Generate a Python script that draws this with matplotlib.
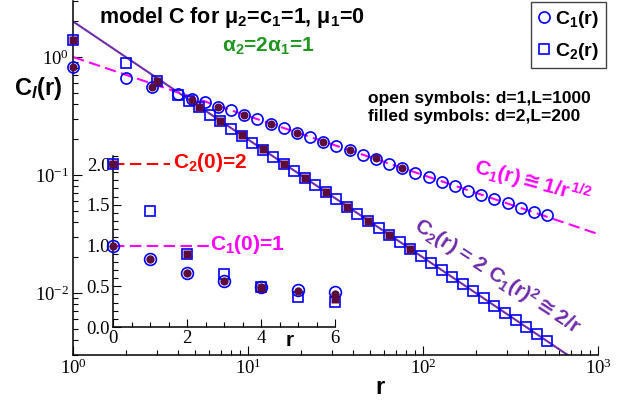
import matplotlib.pyplot as plt
from matplotlib.lines import Line2D
from matplotlib.ticker import MultipleLocator, FormatStrFormatter

plt.rcParams['font.family'] = ['Liberation Sans', 'DejaVu Sans']
plt.rcParams['mathtext.fontset'] = 'custom'
plt.rcParams['mathtext.rm'] = 'Liberation Sans:bold'
plt.rcParams['mathtext.it'] = 'Liberation Sans:italic:bold'
plt.rcParams['mathtext.bf'] = 'Liberation Sans:bold'
plt.rcParams['mathtext.sf'] = 'DejaVu Sans:bold'

# open symbols: d=1, L=1000
r_c1_open = [1, 2, 2.83, 4, 4.76, 5.66, 6.73, 8, 9.51, 11.3, 13.5, 16, 19.0, 22.6, 26.9, 32,
             38.1, 45.3, 53.8, 64, 76.1, 90.5, 108, 128, 152, 181, 215, 256, 304, 362, 431, 512]
c1_open = [0.83, 0.66, 0.555, 0.49, 0.44, 0.415, 0.38, 0.352, 0.323, 0.296, 0.270, 0.248, 0.228,
           0.209, 0.192, 0.176, 0.162, 0.149, 0.137, 0.125, 0.115, 0.104, 0.097, 0.087, 0.080,
           0.073, 0.068, 0.062, 0.058, 0.052, 0.049, 0.046]

r_c2_open = [1, 2, 3.03, 4, 4.59, 5.28, 6.06, 6.96, 8.0, 9.19, 10.56, 12.13, 13.93, 16.0, 18.38,
             21.11, 24.25, 27.86, 32.0, 36.76, 42.22, 48.5, 55.72, 64.0, 73.52, 84.45, 97.01,
             111.4, 128.0, 147.0, 168.9, 194.0, 222.9, 256.0, 294.1, 337.8, 388.0, 445.7, 512.0]
c2_open = [1.40, 0.89, 0.63, 0.48, 0.425, 0.375, 0.323, 0.284, 0.247, 0.216, 0.188, 0.164, 0.143,
           0.124, 0.108, 0.094, 0.082, 0.0715, 0.062, 0.054, 0.047, 0.041, 0.0357, 0.031, 0.027,
           0.0236, 0.0205, 0.0179, 0.0156, 0.0136, 0.0118, 0.0103, 0.0090, 0.0078, 0.0068,
           0.0059, 0.0051, 0.0045, 0.0039]

# filled symbols: d=2, L=200
r_c1_fill = [1, 2.83, 4.76, 6.73, 9.51, 13.5, 19.0, 26.9, 38.1, 53.8, 76.1]
c1_fill = [0.83, 0.553, 0.432, 0.375, 0.323, 0.270, 0.226, 0.191, 0.163, 0.139, 0.114]

r_c2_fill = [1, 3.03, 5.28, 6.96, 9.19, 12.13, 16.0, 21.11, 27.86, 36.76, 48.5, 64.0, 84.45]
c2_fill = [1.39, 0.63, 0.38, 0.287, 0.218, 0.166, 0.125, 0.095, 0.072, 0.054, 0.041, 0.031, 0.0237]

# asymptotic laws
r_law = [1, 1000]
c1_law = [1.0, 0.0316]
c2_law = [2.0, 0.002]

# inset, linear scale
r_in = [0, 1, 2, 3, 4, 5, 6]
c1_in_open = [1.0, 0.84, 0.667, 0.56, 0.49, 0.45, 0.43]
c1_in_fill = [1.0, 0.84, 0.667, 0.565, 0.49, 0.44, 0.40]
c2_in_open = [2.0, 1.42, 0.89, 0.645, 0.49, 0.37, 0.31]
r_in_c2fill = [0, 2, 4, 6]
c2_in_fill = [2.0, 0.89, 0.48, 0.34]

BLUE = '#0000ff'
FILL = '#5c0c3c'
PURPLE = '#6e2daa'
MAG = '#ff00ff'


def px(x, y):
    return x / 636, 1 - y / 400


def symbols(a, rc, vc, ro, vo, marker, ms_open, ms_fill):
    a.plot(ro, vo, marker, ls='none', ms=ms_open, mfc='none', mec=BLUE, mew=1.2,
           clip_on=False, zorder=3)
    a.plot(rc, vc, marker, ls='none', ms=ms_fill, mfc=FILL, mec='none',
           clip_on=False, zorder=4)


fig = plt.figure(figsize=(6.36, 4.0), dpi=100)

ax = fig.add_axes([0.1148, 0.1133, 0.8255, 0.885])
ax.set_xscale('log')
ax.set_yscale('log')
ax.set_xlim(1, 1000)
ax.set_ylim(0.003, 3)
ax.plot(r_law, c2_law, color=PURPLE, lw=1.5, zorder=2)
ax.plot(r_law, c1_law, color=MAG, lw=1.5, dashes=(5.5, 2.6), zorder=2)
symbols(ax, r_c1_fill, c1_fill, r_c1_open, c1_open, 'o', 8, 5.8)
symbols(ax, r_c2_fill, c2_fill, r_c2_open, c2_open, 's', 7, 6.0)
for s in ['top', 'right']:
    ax.spines[s].set_visible(False)
for s in ['left', 'bottom']:
    ax.spines[s].set_linewidth(1.1)
ax.tick_params(which='both', direction='in', width=0.8, labelsize=13.5,
               labelfontfamily='Liberation Serif', pad=3)
ax.tick_params(which='major', length=6.5)
ax.tick_params(which='minor', length=3.5)

# inset
ax2 = fig.add_axes([0.1777, 0.1825, 0.3491, 0.4278], facecolor='none')
ax2.set_xlim(0, 6)
ax2.set_ylim(0, 2.1)
ax2.plot([0, 1.55], [2, 2], color='#ff0000', lw=1.5, dashes=(5.5, 2.6), zorder=2)
ax2.plot([0, 2.6], [1, 1], color=MAG, lw=1.5, dashes=(5.5, 2.6), zorder=2)
ax2.plot(r_in, c2_in_open, 's', ls='none', ms=7.5, mfc='none', mec=BLUE, mew=1.2,
         clip_on=False, zorder=3)
ax2.plot(r_in, c1_in_open, 'o', ls='none', ms=8.5, mfc='none', mec=BLUE, mew=1.2,
         clip_on=False, zorder=3)
ax2.plot(r_in_c2fill, c2_in_fill, 's', ls='none', ms=6.2, mfc=FILL, mec='none',
         clip_on=False, zorder=4)
ax2.plot(r_in, c1_in_fill, 'o', ls='none', ms=6.0, mfc=FILL, mec='none',
         clip_on=False, zorder=4)
for s in ['top', 'right']:
    ax2.spines[s].set_visible(False)
for s in ['left', 'bottom']:
    ax2.spines[s].set_linewidth(1.1)
ax2.set_xticks([0, 2, 4, 6])
ax2.set_yticks([0, 0.5, 1.0, 1.5, 2.0])
ax2.xaxis.set_minor_locator(MultipleLocator(0.5))
ax2.yaxis.set_minor_locator(MultipleLocator(0.1))
ax2.yaxis.set_major_formatter(FormatStrFormatter('%.1f'))
ax2.tick_params(which='both', direction='in', width=0.8, labelsize=13.5,
                labelfontfamily='Liberation Serif', pad=2)
ax2.tick_params(which='major', length=6)
ax2.tick_params(which='minor', length=3.5)

# labels and annotations
fig.text(*px(38, 88), r'$\mathregular{C}_{\mathit{l}}\mathregular{(r)}$', fontsize=17,
         weight='bold', ha='center', va='center')
fig.text(*px(380, 388), 'r', fontsize=17, weight='bold', ha='center', va='center')
fig.text(*px(290, 340), 'r', fontsize=15, weight='bold', ha='center', va='center')
fig.text(*px(99, 17), r'model C for $\mathregular{\mu_2}$=$\mathregular{c_1}$=1, $\mathregular{\mu_1}$=0',
         fontsize=15.5, weight='bold', ha='left', va='center')
fig.text(*px(222, 46), r'$\mathregular{\alpha_2}$=2$\mathregular{\alpha_1}$=1', fontsize=15,
         weight='bold', color='#1f961f', ha='left', va='center')
fig.text(*px(368, 98), 'open symbols: d=1,L=1000', fontsize=12.5, weight='bold',
         ha='left', va='center')
fig.text(*px(368, 116), 'filled symbols: d=2,L=200', fontsize=12.5, weight='bold',
         ha='left', va='center')
fig.text(*px(533, 182), r'$\mathregular{C_1(r)}\mathsf{\cong}\mathregular{1/r^{\,1/2}}$',
         fontsize=15, weight='bold', color=MAG, ha='center', va='center', rotation=-15,
         rotation_mode='anchor')
fig.text(*px(497, 276), r'$\mathregular{C_2(r)}$ = 2 $\mathregular{C_1(r)^2}\mathsf{\cong}\mathregular{2/r}$',
         fontsize=15, weight='bold', color=PURPLE, ha='center', va='center', rotation=-33,
         rotation_mode='anchor')
fig.text(*px(173, 163), r'$\mathregular{C_2(0)}$=2', fontsize=15, weight='bold',
         color='#ff0000', ha='left', va='center')
fig.text(*px(210, 245), r'$\mathregular{C_1(0)}$=1', fontsize=15, weight='bold',
         color=MAG, ha='left', va='center')

handles = [Line2D([], [], marker='o', ls='none', ms=8, mfc='none', mec=BLUE, mew=1.2),
           Line2D([], [], marker='s', ls='none', ms=7, mfc='none', mec=BLUE, mew=1.2)]
leg = fig.legend(handles, [r'$\mathregular{C_1(r)}$', r'$\mathregular{C_2(r)}$'],
                 loc='upper right', bbox_to_anchor=px(606, 2), frameon=True, fancybox=False,
                 edgecolor='#444444', framealpha=1, handlelength=0.6, handletextpad=0.3,
                 borderpad=0.35, labelspacing=0.55, borderaxespad=0,
                 prop={'size': 14, 'weight': 'bold'})
leg.get_frame().set_linewidth(1.0)

fig.savefig('out.png', dpi=100)
